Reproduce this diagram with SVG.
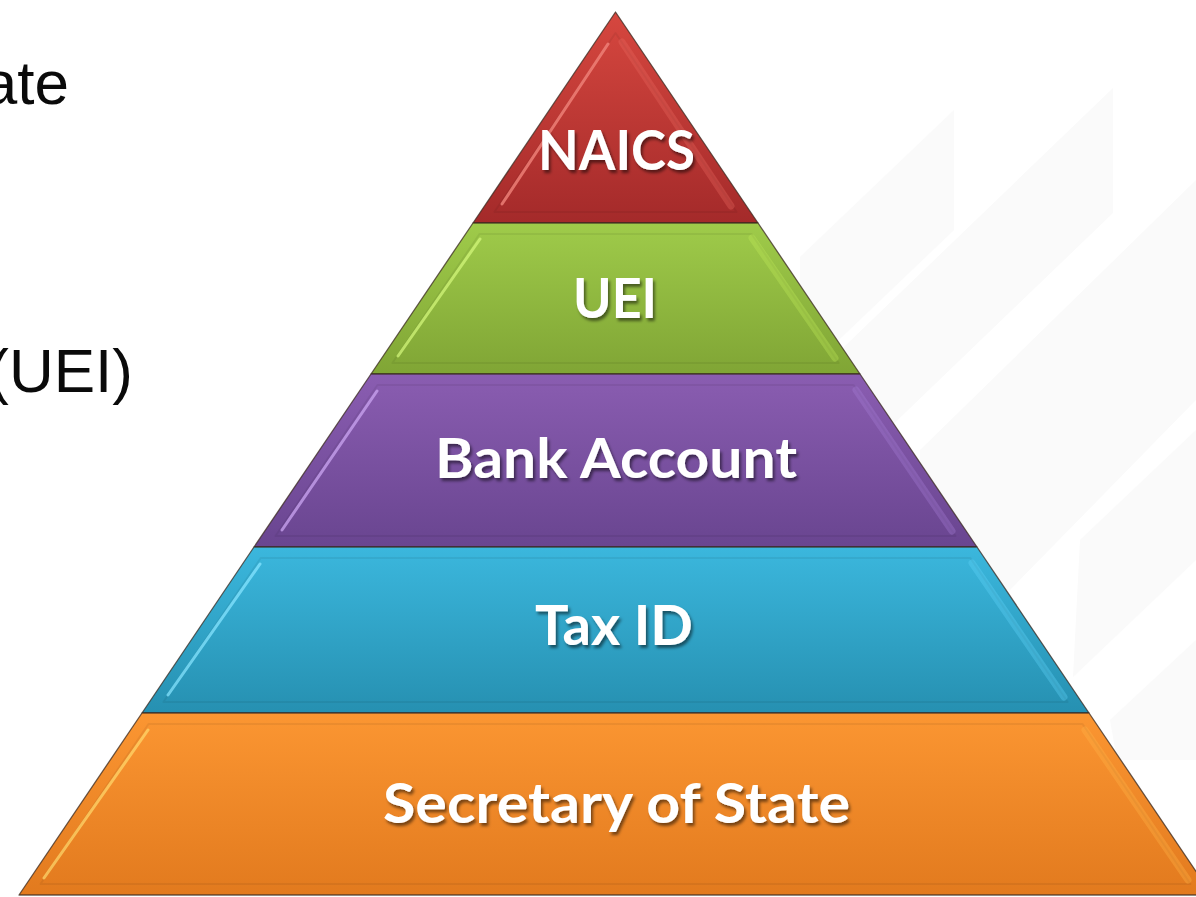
<svg xmlns="http://www.w3.org/2000/svg" width="1196" height="897" viewBox="0 0 1196 897">
  <defs>
    <style>
      .layer { stroke: #3a2a20; stroke-opacity: 0.75; stroke-width: 1.3; stroke-linejoin: round; }
      .bevel { fill: none; stroke: #000000; stroke-opacity: 0.06; stroke-width: 2; stroke-linejoin: round; }
      .hl-left { fill: none; stroke-width: 3; stroke-linecap: round; stroke-opacity: 0.75; }
      .hl-right { fill: none; stroke-width: 7; stroke-linecap: round; stroke-opacity: 0.35; }
      .label { font-family: Lato, "Open Sans", "DejaVu Sans", sans-serif; font-weight: 700; font-size: 56px; fill: #ffffff; text-anchor: middle; filter: url(#shadow); }
      .side { font-family: "Liberation Sans", Arial, sans-serif; font-size: 62px; fill: #0a0a0a; text-anchor: end; }
      .bg-band { fill: #fafafa; }
    </style>
    <filter id="shadow" x="-10%" y="-30%" width="130%" height="170%">
      <feDropShadow dx="2" dy="3" stdDeviation="1.6" flood-color="#000000" flood-opacity="0.5"/>
    </filter>
    <linearGradient id="gRed" x1="0" y1="0" x2="0" y2="1">
      <stop offset="0" stop-color="#d6473f"/>
      <stop offset="1" stop-color="#a42a2a"/>
    </linearGradient>
    <linearGradient id="gGreen" x1="0" y1="0" x2="0" y2="1">
      <stop offset="0" stop-color="#9fcb4a"/>
      <stop offset="1" stop-color="#80a535"/>
    </linearGradient>
    <linearGradient id="gPurple" x1="0" y1="0" x2="0" y2="1">
      <stop offset="0" stop-color="#8a5db1"/>
      <stop offset="1" stop-color="#694590"/>
    </linearGradient>
    <linearGradient id="gBlue" x1="0" y1="0" x2="0" y2="1">
      <stop offset="0" stop-color="#3bb7dd"/>
      <stop offset="1" stop-color="#2690b1"/>
    </linearGradient>
    <linearGradient id="gOrange" x1="0" y1="0" x2="0" y2="1">
      <stop offset="0" stop-color="#fb9632"/>
      <stop offset="1" stop-color="#e27a1e"/>
    </linearGradient>
  </defs>

  <rect x="0" y="0" width="1196" height="897" fill="#ffffff"/>

  <g id="background">
    <polygon class="bg-band" points="800,257 954,110 954,230 800,377"/>
    <polygon class="bg-band" points="820,370 1113,88 1113,213 880,437 820,495"/>
    <polygon class="bg-band" points="920,450 1196,180 1196,400 1010,590 920,590"/>
    <polygon class="bg-band" points="1080,540 1196,430 1196,560 1073,677"/>
    <polygon class="bg-band" points="1110,720 1196,640 1196,760 1117,760"/>
  </g>

  <g id="node-naics">
    <polygon class="layer" fill="url(#gRed)" points="615.5,12 758,223 473,223"/>
    <polygon class="bevel" points="615.5,33 736.6,212 494.4,212"/>
    <line class="hl-left" stroke="#f58a80" x1="502" y1="204" x2="608" y2="44"/>
    <line class="hl-right" stroke="#e8665e" x1="622" y1="42" x2="731" y2="206"/>
    <text class="label" x="616.5" y="170" textLength="157" lengthAdjust="spacingAndGlyphs">NAICS</text>
  </g>

  <g id="node-uei">
    <polygon class="layer" fill="url(#gGreen)" points="473,223 758,223 860,374 371,374"/>
    <polygon class="bevel" points="479.5,234 751.5,234 838.6,363 392.4,363"/>
    <line class="hl-left" stroke="#d2f57a" x1="398" y1="356" x2="480" y2="239"/>
    <line class="hl-right" stroke="#c0ea5a" x1="752" y1="238" x2="835" y2="358"/>
    <text class="label" x="615" y="318" textLength="84" lengthAdjust="spacingAndGlyphs">UEI</text>
  </g>

  <g id="node-bank">
    <polygon class="layer" fill="url(#gPurple)" points="371,374 860,374 977,547 254,547"/>
    <polygon class="bevel" points="377.5,385 853.5,385 955.5,536 275.5,536"/>
    <line class="hl-left" stroke="#cba5f2" x1="282" y1="530" x2="377" y2="391"/>
    <line class="hl-right" stroke="#a77dd8" x1="856" y1="390" x2="952" y2="531"/>
    <text class="label" x="616" y="478" textLength="362" lengthAdjust="spacingAndGlyphs">Bank Account</text>
  </g>

  <g id="node-tax">
    <polygon class="layer" fill="url(#gBlue)" points="254,547 977,547 1089,713 142,713"/>
    <polygon class="bevel" points="260.7,558 970.3,558 1067.6,702 163.4,702"/>
    <line class="hl-left" stroke="#86e4ff" x1="168" y1="695" x2="260" y2="564"/>
    <line class="hl-right" stroke="#62d4f8" x1="972" y1="563" x2="1064" y2="697"/>
    <text class="label" x="614" y="645" textLength="158" lengthAdjust="spacingAndGlyphs">Tax ID</text>
  </g>

  <g id="node-sos">
    <polygon class="layer" fill="url(#gOrange)" points="142,713 1089,713 1212,895 19,895"/>
    <polygon class="bevel" points="148.5,724 1082.5,724 1190.5,884 40.5,884"/>
    <line class="hl-left" stroke="#ffd66a" x1="44" y1="878" x2="148" y2="730"/>
    <line class="hl-right" stroke="#ffb448" x1="1085" y1="730" x2="1188" y2="880"/>
    <text class="label" x="616.5" y="823" textLength="467" lengthAdjust="spacingAndGlyphs">Secretary of State</text>
  </g>

  <g id="connectors"/>

  <g id="side-text">
    <text class="side" x="69" y="104">ate</text>
    <text class="side" x="133" y="392">(UEI)</text>
  </g>
</svg>
